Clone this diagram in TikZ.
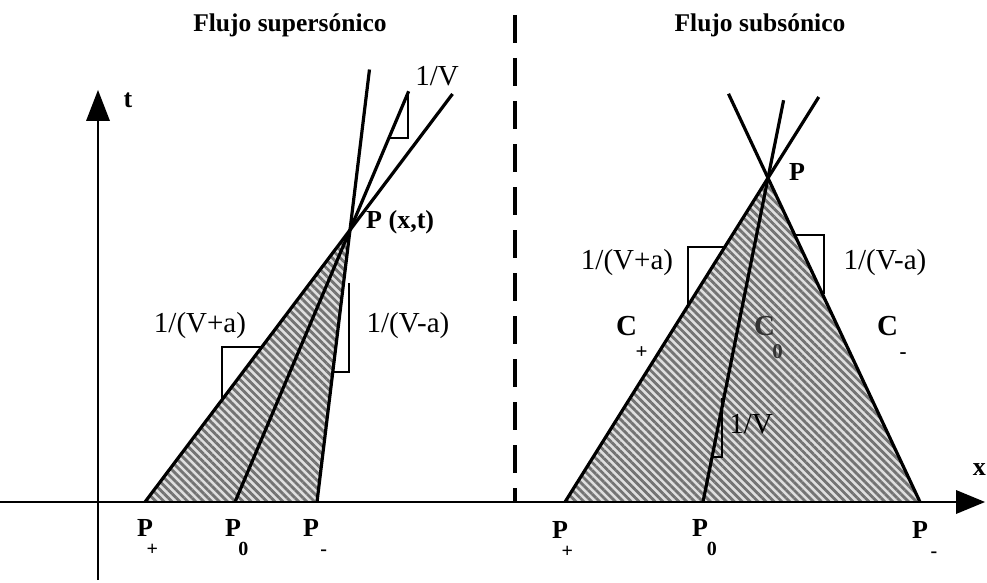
\documentclass[tikz,border=0pt]{standalone}
\usepackage{fontspec}
\setmainfont{Liberation Serif}
\usetikzlibrary{patterns.meta,arrows.meta,calc}
\tikzset{
  mainline/.style={line width=3.2pt, black},
  axis/.style={line width=2.8pt, black},
  bracket/.style={line width=2.2pt, black, line join=miter},
  hatch/.style={fill=gray!25, postaction={pattern={Lines[angle=-45,distance=5.6pt,line width=2.8pt]}, pattern color=black!55}},
  lbl/.style={inner sep=0pt, font=\fontsize{29}{30}\selectfont},
  bl/.style={inner sep=0pt, font=\fontsize{26}{27}\selectfont\bfseries},
  cl/.style={inner sep=0pt, font=\fontsize{29}{30}\selectfont\bfseries},
  ttl/.style={inner sep=0pt, font=\fontsize{25.5}{27}\selectfont\bfseries},
}
\newcommand{\sbl}[1]{\raisebox{-0.75em}{\fontsize{20}{20}\selectfont #1}}
\newcommand{\csb}[1]{\raisebox{-0.8em}{\fontsize{21}{21}\selectfont #1}}
\begin{document}
\begin{tikzpicture}[x=1pt,y=-1pt]
\useasboundingbox (0,0) rectangle (987,583);
% ---------- coordinates
\coordinate (O) at (98,580);
\coordinate (XL) at (0,502);
% left panel
\coordinate (P) at (350,230);
\coordinate (Pp) at (145,502);
\coordinate (P0) at (235,502);
\coordinate (Pm) at (317,502);
\coordinate (Ep) at ($(Pp)!1.5!(P)$);
\coordinate (E0) at ($(P0)!1.51!(P)$);
\coordinate (Em) at ($(Pm)!1.59!(P)$);
% right panel
\coordinate (Q) at (768,178);
\coordinate (Qp) at (565,502);
\coordinate (Q0) at (703,502);
\coordinate (Qm) at (920,502);
\coordinate (Fp) at ($(Qp)!1.25!(Q)$);
\coordinate (F0) at ($(Q0)!1.24!(Q)$);
\coordinate (Fm) at ($(Qm)!1.26!(Q)$);
% ---------- hatched regions
\path[hatch] (Pp) -- (P) -- (Pm) -- cycle;
\path[hatch] (Qp) -- (Q) -- (Qm) -- cycle;
% ---------- axes
\draw[axis] (XL) -- (960,502);
\draw[axis] (O) -- (98,118);
\fill (98,90) -- (86,121) -- (110,121) -- cycle;
\fill (985,502) -- (956,490) -- (956,514) -- cycle;
\draw[line width=3.4pt, dash pattern=on 28pt off 15pt] (515,15) -- (515,502);
% ---------- characteristic lines
\draw[mainline] (Pp) -- (Ep);
\draw[mainline] (P0) -- (E0);
\draw[mainline] (Pm) -- (Em);
\draw[mainline] (Qp) -- (Fp);
\draw[mainline] (Q0) -- (F0);
\draw[mainline] (Qm) -- (Fm);
% ---------- slope brackets (left)
\draw[bracket] (389,138) -- (408,138) -- (408,92);
\draw[bracket] (222,400) -- (222,347) -- (262,347);
\draw[bracket] (333,372) -- (349,372) -- (349,283);
% ---------- slope brackets (right)
\draw[bracket] (688,306) -- (688,247) -- (725,247);
\draw[bracket] (795,235) -- (824,235) -- (824,294);
\draw[bracket] (712,457) -- (722,457) -- (722,398);
% ---------- titles
\node[ttl] (t1) at (290,25) {Flujo supersónico};
\node[ttl] (t2) at (760,25) {Flujo subsónico};
% ---------- axis labels
\node[bl] (tl) at (128,100) {t};
\node[bl, anchor=east] (xl) at (986,470) {x};
% ---------- left labels
\node[lbl] (lv) at (437,76) {1/V};
\node[bl, anchor=west] (pxt) at (366,222) {P (x,t)};
\node[lbl] (lvpa) at (200,326) {1/(V+a)};
\node[lbl] (lvma) at (408,326) {1/(V-a)};
\node[bl, anchor=north west] (lpp) at (137,519) {P\kern-0.25em\sbl{+}};
\node[bl, anchor=north west] (lp0) at (225,519) {P\kern-0.1em\sbl{0}};
\node[bl, anchor=north west] (lpm) at (303,519) {P\kern0.05em\sbl{-}};
% ---------- right labels
\node[bl] (qlab) at (797,172) {P};
\node[lbl] (rvpa) at (627,263) {1/(V+a)};
\node[lbl] (rvma) at (885,263) {1/(V-a)};
\node[cl, anchor=north west] (cp) at (616,316) {C\kern-0.05em\csb{+}};
\node[cl, anchor=north west, black!80] (c0) at (754,316) {C\kern-0.1em\csb{0}};
\node[cl, anchor=north west] (cm) at (877,316) {C\kern0.05em\csb{-}};
\node[lbl] (rv) at (751,424) {1/V};
\node[bl, anchor=north west] (rpp) at (552,521) {P\kern-0.25em\sbl{+}};
\node[bl, anchor=north west] (rp0) at (692,519) {P\kern-0.05em\sbl{0}};
\node[bl, anchor=north west] (rpm) at (912,521) {P\kern0.1em\sbl{-}};
\end{tikzpicture}
\end{document}
